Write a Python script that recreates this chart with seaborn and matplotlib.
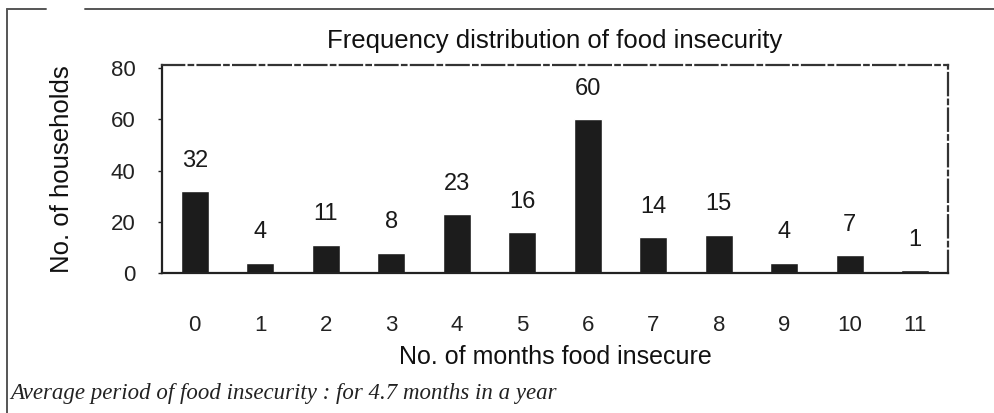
"""Frequency distribution of food insecurity - bar chart."""
import matplotlib
matplotlib.use("Agg")
import matplotlib.pyplot as plt
from matplotlib.lines import Line2D
import seaborn as sns
import pandas as pd

# Data
months = ["0", "1", "2", "3", "4", "5", "6", "7", "8", "9", "10", "11"]
households = [32, 4, 11, 8, 23, 16, 60, 14, 15, 4, 7, 1]

title = "Frequency distribution of food insecurity"
x_label = "No. of months food insecure"
y_label = "No. of households"
caption = "Average period of food insecurity : for 4.7 months in a year"

sns.set_theme(style="white")
plt.rcParams['font.family'] = ['Liberation Sans', 'DejaVu Sans']

df = pd.DataFrame({"month": months, "count": households})

fig = plt.figure(figsize=(9.95, 4.13), dpi=100)
ax = fig.add_axes([0.1628, 0.339, 0.79, 0.5036])

sns.barplot(data=df, x="month", y="count", color="#1c1c1c", width=0.43,
            saturation=1, ax=ax)

ax.set_ylim(0, 81.2)
ax.set_yticks([0, 20, 40, 60, 80])
ax.bar_label(ax.containers[0], padding=14, fontsize=17, color="#1a1a1a")

# spines, ticks
for side in ["left", "bottom"]:
    ax.spines[side].set_color("#222222")
    ax.spines[side].set_linewidth(1.6)
for side in ["top", "right"]:
    ax.spines[side].set_visible(True)
    ax.spines[side].set_color("#333333")
    ax.spines[side].set_linewidth(1.6)
    ax.spines[side].set_linestyle((0, (10, 2, 2, 2)))

ax.tick_params(axis="y", length=3, width=1, pad=16, labelsize=16,
               colors="#222222", left=True)
ax.tick_params(axis="x", length=0, pad=30, labelsize=16, colors="#222222")

ax.set_xlabel(x_label, fontsize=18, color="#111111", labelpad=7)
ax.set_ylabel(y_label, fontsize=18.5, color="#111111")
ax.yaxis.set_label_coords(-0.112, 0.5)
ax.set_title(title, fontsize=18.5, color="#111111", pad=12)

# caption
fig.text(0.010, 0.035, caption, fontsize=16.5, style="italic",
         family=["Liberation Serif", "DejaVu Serif"], color="#222222")

# outer frame (open at right and bottom, small gap at top-left)
frame_kw = dict(color="#555555", linewidth=1.4, transform=fig.transFigure)
fig.add_artist(Line2D([0.007, 0.046], [0.978, 0.978], **frame_kw))
fig.add_artist(Line2D([0.085, 1.0], [0.978, 0.978], **frame_kw))
fig.add_artist(Line2D([0.007, 0.007], [0.0, 0.978], **frame_kw))

fig.savefig("out.png", dpi=100)
